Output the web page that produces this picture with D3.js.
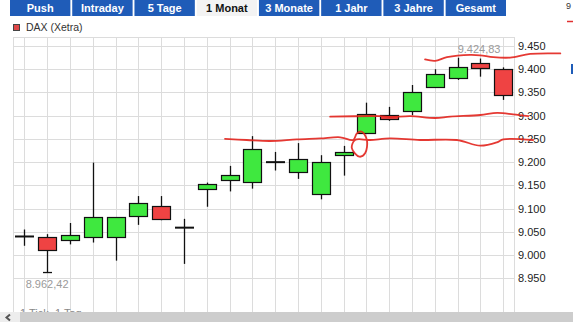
<!DOCTYPE html>
<html>
<head>
<meta charset="utf-8">
<script src="https://cdn.jsdelivr.net/npm/d3@7"></script>
<style>
body { margin: 0; background: #fff; }
svg { display: block; font-family: "Liberation Sans", Arial, sans-serif; }
</style>
</head>
<body>
<div id="chart"></div>
<script>
// tabs over the chart
var tabs = ["Push", "Intraday", "5 Tage", "1 Monat", "3 Monate", "1 Jahr", "3 Jahre", "Gesamt"];
var activeTab = "1 Monat";
var seriesName = "DAX (Xetra)";

// one candle per trading day
var openV  = [9040, 9038, 9032, 9040, 9038, 9083, 9105, 9059, 9142, 9161, 9157, 9200, 9178, 9131, 9215, 9262, 9301, 9312, 9361, 9381, 9413, 9400];
var closeV = [9040, 9010, 9043, 9083, 9081, 9111, 9078, 9059, 9153, 9172, 9228, 9200, 9206, 9200, 9222, 9303, 9292, 9352, 9389, 9405, 9402, 9344];
var highV  = [9055, 9045, 9069, 9199, 9081, 9127, 9127, 9078, 9156, 9192, 9256, 9222, 9241, 9215, 9235, 9328, 9319, 9366, 9400, 9424.83, 9423, 9404];
var lowV   = [9020, 8962.42, 9023, 9027, 8988, 9065, 9075, 8981, 9104, 9137, 9143, 9182, 9164, 9120, 9171, 9262, 9289, 9301, 9361, 9377, 9384, 9334];

var yTicks = [8950, 9000, 9050, 9100, 9150, 9200, 9250, 9300, 9350, 9400, 9450];
var bottomLinks = ["1 Tick", "1 Tag"];

// hand drawn red marks, [day index, value]
var markTop = [[17.57, 9421], [18.01, 9418], [18.53, 9426], [19.55, 9431], [19.99, 9430], [20.56, 9426], [21.3, 9425], [22.18, 9433], [23.5, 9434]];
var markMid = [[13.41, 9298], [15.6, 9299], [16.04, 9297], [16.92, 9299], [18.01, 9295], [18.67, 9298], [19.99, 9301.5], [20.73, 9306], [21.43, 9303], [22.1, 9299]];
var markLow = [[8.8, 9250], [9.75, 9247.7], [10.78, 9245.5], [11.95, 9249], [12.97, 9251], [13.85, 9253.5], [14.42, 9247.7],
               [14.58, 9262], [14.8, 9265.5], [15.02, 9247.7], [14.94, 9219], [14.69, 9211.7], [14.36, 9230], [14.5, 9247.7],
               [15.16, 9247.7], [16.04, 9251], [17.35, 9247.7], [18.96, 9247.7], [19.99, 9235.4], [20.72, 9242.7], [21, 9249], [22.31, 9247.7]];

var W = 573, H = 322;
var plot = {left: 13, right: 514, top: 37, bottom: 312};

var de = d3.formatLocale({decimal: ",", thousands: ".", grouping: [3], currency: ["", "€"]});

var svg = d3.select("#chart").append("svg")
    .attr("width", W)
    .attr("height", H);

// tabs
var tabScale = d3.scaleBand().domain(tabs).range([10, 506]).paddingInner(0.03);
var tab = svg.selectAll(".tab").data(tabs).enter().append("g").attr("class", "tab");
tab.append("rect")
    .attr("x", function(d) { return tabScale(d); })
    .attr("y", 0)
    .attr("width", tabScale.bandwidth())
    .attr("height", 16)
    .attr("fill", function(d) { return d == activeTab ? "#f3f3f3" : "#1f5cb8"; });
tab.append("text")
    .attr("x", function(d) { return tabScale(d) + tabScale.bandwidth() / 2; })
    .attr("y", 8)
    .attr("dy", "0.35em")
    .attr("text-anchor", "middle")
    .style("font-size", "11px")
    .style("font-weight", "bold")
    .attr("fill", function(d) { return d == activeTab ? "#111" : "#fff"; })
    .text(function(d) { return d; });

// cut off bits at the right edge
svg.append("text").attr("x", 566).attr("y", 9).style("font-size", "9px").attr("fill", "#333").text("9");
svg.append("line").attr("x1", 567).attr("x2", 573).attr("y1", 21.5).attr("y2", 21.5).attr("stroke", "#e03030").attr("stroke-width", 1.5);
svg.append("rect").attr("x", 571).attr("y", 64).attr("width", 3).attr("height", 10).attr("fill", "#1f5cb8");

// legend
svg.append("rect")
    .attr("x", 13.5).attr("y", 24.5).attr("width", 6).attr("height", 6)
    .attr("fill", "#e04848").attr("stroke", "#444");
svg.append("text")
    .attr("x", 26).attr("y", 27.5).attr("dy", "0.35em")
    .style("font-size", "10.5px").attr("fill", "#333")
    .text(seriesName);

var n = openV.length;
var x = d3.scaleLinear().domain([0, n - 1]).range([24.3, 503.3]);
var y = d3.scaleLinear().domain([8950, 9450]).range([278.3, 46]);

// grid
svg.append("g")
    .attr("class", "grid")
    .attr("transform", "translate(" + plot.left + ",0)")
    .call(d3.axisLeft(y).tickValues(yTicks).tickSize(-(plot.right - plot.left)).tickFormat(""))
    .call(function(g) { g.select(".domain").remove(); });

svg.append("g")
    .attr("class", "grid")
    .attr("transform", "translate(0," + plot.bottom + ")")
    .call(d3.axisBottom(x).tickValues(d3.range(n)).tickSize(-(plot.bottom - plot.top)).tickFormat(""))
    .call(function(g) { g.select(".domain").remove(); });

svg.selectAll(".grid line").attr("stroke", "#dcdcdc").attr("shape-rendering", "crispEdges");

svg.append("path")
    .attr("d", "M" + plot.left + "," + plot.bottom + "V" + plot.top + "H" + plot.right + "V" + plot.bottom)
    .attr("fill", "none").attr("stroke", "#dcdcdc").attr("shape-rendering", "crispEdges");

// y labels
svg.append("g")
    .attr("transform", "translate(" + plot.right + ",0)")
    .call(d3.axisRight(y).tickValues(yTicks).tickSize(0).tickPadding(4).tickFormat(de.format(",.0f")))
    .call(function(g) { g.select(".domain").remove(); })
    .selectAll("text")
    .style("font-size", "11px")
    .style("font-family", "'Liberation Sans', Arial, sans-serif")
    .attr("fill", "#222");

// candles
var candles = d3.range(n).map(function(i) {
    return {i: i, o: openV[i], c: closeV[i], h: highV[i], l: lowV[i]};
});
function cx(d) { return Math.round(x(d.i)) + 0.5; }

svg.selectAll(".wick").data(candles).enter().append("line")
    .attr("class", "wick")
    .attr("x1", cx).attr("x2", cx)
    .attr("y1", function(d) { return y(d.h); })
    .attr("y2", function(d) { return y(d.l); })
    .attr("stroke", "#111").attr("stroke-width", 1.3);

svg.selectAll(".body").data(candles.filter(function(d) { return d.o != d.c; })).enter().append("rect")
    .attr("class", "body")
    .attr("x", function(d) { return cx(d) - 9; })
    .attr("y", function(d) { return Math.round(y(Math.max(d.o, d.c))) + 0.5; })
    .attr("width", 18)
    .attr("height", function(d) { return Math.max(2, Math.round(Math.abs(y(d.o) - y(d.c)))); })
    .attr("fill", function(d) { return d.c > d.o ? "#3fe83f" : "#ef4343"; })
    .attr("stroke", "#111").attr("stroke-width", 1.2);

svg.selectAll(".doji").data(candles.filter(function(d) { return d.o == d.c; })).enter().append("line")
    .attr("class", "doji")
    .attr("x1", function(d) { return cx(d) - 9.5; })
    .attr("x2", function(d) { return cx(d) + 9.5; })
    .attr("y1", function(d) { return y(d.o); })
    .attr("y2", function(d) { return y(d.o); })
    .attr("stroke", "#111").attr("stroke-width", 2);

// min / max labels
var iMax = d3.maxIndex(highV), iMin = d3.minIndex(lowV);
svg.append("line")
    .attr("x1", Math.round(x(iMin)) - 4).attr("x2", Math.round(x(iMin)) + 5)
    .attr("y1", y(lowV[iMin])).attr("y2", y(lowV[iMin]))
    .attr("stroke", "#111").attr("stroke-width", 1.3);
svg.append("text")
    .attr("x", x(iMin)).attr("y", y(lowV[iMin]) + 15)
    .attr("text-anchor", "middle")
    .style("font-size", "11px").attr("fill", "#9a9a9a")
    .text(de.format(",.2f")(lowV[iMin]));
svg.append("text")
    .attr("x", x(iMax)).attr("y", y(highV[iMax]) - 5)
    .style("font-size", "11px").attr("fill", "#9a9a9a")
    .text(de.format(",.2f")(highV[iMax]));

// red pen marks
var pen = d3.line()
    .x(function(d) { return x(d[0]); })
    .y(function(d) { return y(d[1]); })
    .curve(d3.curveCatmullRom.alpha(0.5));
[markTop, markMid, markLow].forEach(function(m) {
    svg.append("path")
        .datum(m)
        .attr("d", pen)
        .attr("fill", "none")
        .attr("stroke", "#e2231d")
        .attr("stroke-width", 1.8)
        .attr("stroke-opacity", 0.9)
        .attr("stroke-linecap", "round");
});

// links under the chart, mostly hidden by the scrollbar
svg.selectAll(".link").data(bottomLinks).enter().append("text")
    .attr("x", function(d, i) { return 20 + i * 35; })
    .attr("y", 317)
    .style("font-size", "11px").attr("fill", "#888")
    .text(function(d) { return d; });

// scrollbar
svg.append("rect").attr("x", 0).attr("y", 312).attr("width", W).attr("height", 10).attr("fill", "#cdcdcd");
svg.append("rect").attr("x", 0).attr("y", 312).attr("width", 20).attr("height", 10).attr("fill", "#ededed");
svg.append("path").attr("d", "M10,314.5L6.5,317.5L10,320.5").attr("fill", "none").attr("stroke", "#555").attr("stroke-width", 2);
</script>
</body>
</html>
